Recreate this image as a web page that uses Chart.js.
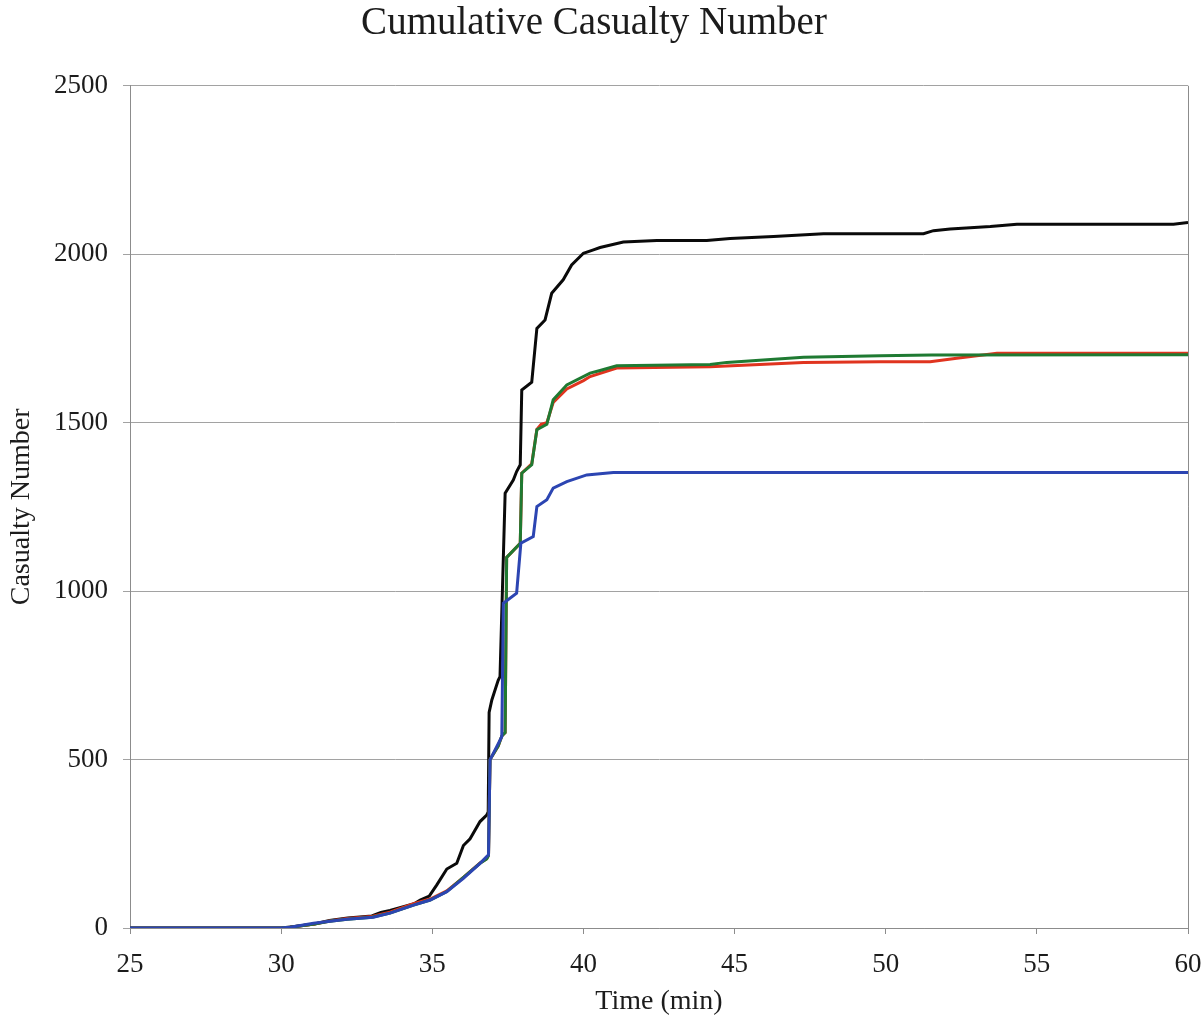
<!DOCTYPE html>
<html>
<head>
<meta charset="utf-8">
<script src="https://cdn.jsdelivr.net/npm/chart.js@4.4.1/dist/chart.umd.min.js"></script>
<style>
  html, body { margin: 0; padding: 0; background: #fff; }
  #wrap { width: 1201px; height: 1035px; }
</style>
</head>
<body>
<div id="wrap"><canvas id="chart" width="1201" height="1035"></canvas></div>
<script>
// values (time in min, cumulative casualties)
const xTicks = [25, 30, 35, 40, 45, 50, 55, 60];
const yTicks = [0, 500, 1000, 1500, 2000, 2500];

const blackTime = [25, 30.0, 30.3, 31.1, 31.6, 32.2, 33.0, 33.3, 33.6, 34.4, 34.6, 34.9, 35.15, 35.48, 35.81, 36.03, 36.25, 36.58, 36.8, 36.85, 36.88, 36.97, 37.18, 37.24, 37.41, 37.68, 37.79, 37.91, 37.96, 38.29, 38.46, 38.73, 38.95, 39.33, 39.61, 40.0, 40.33, 40.55, 41.32, 42.43, 44.08, 44.85, 46.29, 47.94, 51.25, 51.58, 52.13, 53.46, 54.34, 59.52, 60];
const blackCount = [0, 0, 3, 12, 22, 30, 36, 46, 52, 72, 83, 95, 128, 175, 192, 245, 265, 316, 335, 345, 640, 677, 735, 746, 1291, 1330, 1355, 1375, 1597, 1620, 1780, 1805, 1884, 1924, 1968, 2003, 2013, 2020, 2036, 2041, 2041, 2047, 2053, 2061, 2061, 2070, 2075, 2082, 2089, 2089, 2094];

const redTime = [25, 30.0, 30.3, 31.1, 31.6, 32.2, 33.0, 33.6, 34.38, 34.93, 35.48, 36.03, 36.58, 36.8, 36.86, 36.91, 37.18, 37.3, 37.41, 37.46, 37.91, 37.96, 38.29, 38.46, 38.6, 38.79, 39.0, 39.45, 40.0, 40.22, 41.1, 44.19, 47.28, 49.82, 51.47, 52.35, 53.68, 60];
const redCount = [0, 0, 2, 12, 21, 28, 34, 47, 72, 86, 110, 150, 193, 206, 216, 500, 540, 570, 580, 1100, 1142, 1350, 1378, 1480, 1495, 1500, 1560, 1600, 1625, 1637, 1662, 1666, 1679, 1681, 1681, 1691, 1706, 1706];

const greenTime = [25, 30.0, 30.3, 31.1, 31.6, 32.2, 33.0, 33.6, 34.38, 34.93, 35.48, 36.03, 36.58, 36.8, 36.86, 36.91, 37.18, 37.3, 37.41, 37.46, 37.91, 37.96, 38.29, 38.46, 38.79, 39.0, 39.45, 40.22, 40.55, 41.1, 44.19, 44.74, 47.28, 49.82, 51.5, 60];
const greenCount = [0, 0, 2, 12, 20, 26, 32, 44, 68, 83, 108, 150, 192, 205, 215, 500, 540, 570, 580, 1100, 1142, 1350, 1375, 1479, 1495, 1568, 1612, 1647, 1655, 1669, 1673, 1679, 1694, 1699, 1701, 1702];

const blueTime = [25, 30.0, 30.3, 31.07, 32.17, 33.05, 33.6, 34.38, 34.93, 35.48, 36.03, 36.58, 36.8, 36.86, 36.91, 37.3, 37.35, 37.79, 37.93, 38.34, 38.46, 38.79, 39.0, 39.45, 40.11, 40.99, 60];
const blueCount = [0, 0, 2, 14, 26, 32, 44, 68, 83, 108, 147, 192, 212, 217, 499, 568, 964, 994, 1142, 1162, 1251, 1271, 1306, 1325, 1345, 1352, 1352];

const serif = "'Liberation Serif', 'Times New Roman', serif";
const textColor = '#1c1c1c';

function toPoints(times, counts) {
  return times.map((t, i) => ({ x: t, y: counts[i] }));
}

function series(label, times, counts, color, order) {
  return {
    label: label,
    data: toPoints(times, counts),
    borderColor: color,
    backgroundColor: color,
    borderWidth: 3,
    pointRadius: 0,
    tension: 0,
    fill: false,
    order: order
  };
}

// thin frame on the right side of the plot
const rightEdge = {
  id: 'rightEdge',
  afterDraw(chart) {
    const { ctx, chartArea } = chart;
    ctx.save();
    ctx.strokeStyle = '#8c8c8c';
    ctx.lineWidth = 1;
    ctx.beginPath();
    ctx.moveTo(chartArea.right + 0.5, chartArea.top);
    ctx.lineTo(chartArea.right + 0.5, chartArea.bottom);
    ctx.stroke();
    ctx.restore();
  }
};

new Chart(document.getElementById('chart').getContext('2d'), {
  type: 'line',
  data: {
    datasets: [
      series('Black', blackTime, blackCount, '#0a0a0a', 3),
      series('Red', redTime, redCount, '#e0341f', 2),
      series('Green', greenTime, greenCount, '#1f7a32', 1),
      series('Blue', blueTime, blueCount, '#2c45b2', 0)
    ]
  },
  options: {
    responsive: false,
    animation: false,
    layout: { padding: { left: 0, right: 13, top: 0, bottom: 0 } },
    plugins: {
      legend: { display: false },
      tooltip: { enabled: false },
      title: {
        display: true,
        text: 'Cumulative Casualty Number',
        color: textColor,
        font: { family: serif, size: 39, weight: 'normal' },
        padding: { top: 0, bottom: 39 }
      }
    },
    scales: {
      x: {
        type: 'linear',
        min: 25,
        max: 60,
        afterBuildTicks: (scale) => { scale.ticks = xTicks.map(v => ({ value: v })); },
        afterFit: (scale) => {
          scale.height = 1035 - 928;
          scale.paddingLeft = 0;
          scale.paddingRight = 0;
        },
        ticks: {
          color: textColor,
          font: { family: serif, size: 27 },
          padding: 15,
          maxRotation: 0,
          callback: (v) => String(v)
        },
        grid: { drawOnChartArea: false, drawTicks: true, tickLength: 6, color: '#8c8c8c' },
        border: { color: '#8c8c8c', width: 1 },
        title: {
          display: true,
          text: 'Time (min)',
          color: textColor,
          font: { family: serif, size: 28 },
          padding: { top: 0, bottom: 17 }
        }
      },
      y: {
        min: 0,
        max: 2500,
        afterBuildTicks: (scale) => { scale.ticks = yTicks.map(v => ({ value: v })); },
        afterFit: (scale) => { scale.width = 130; },
        ticks: {
          color: textColor,
          font: { family: serif, size: 27 },
          padding: 15,
          callback: (v) => String(v)
        },
        grid: { color: '#a2a2a2', lineWidth: 1, tickLength: 7 },
        border: { color: '#8c8c8c', width: 1 },
        title: {
          display: true,
          text: 'Casualty Number',
          color: textColor,
          font: { family: serif, size: 28 },
          padding: { top: 5, bottom: 0 }
        }
      }
    }
  },
  plugins: [rightEdge]
});
</script>
</body>
</html>
